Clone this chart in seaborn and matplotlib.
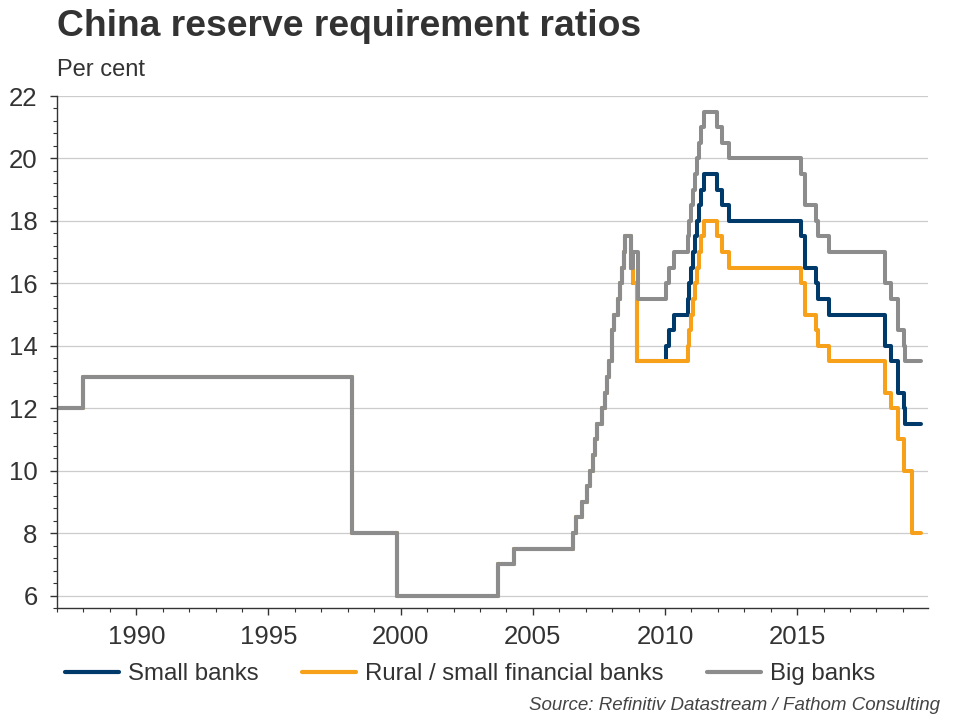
import pandas as pd
import seaborn as sns
import matplotlib.pyplot as plt
from matplotlib.ticker import MultipleLocator

# Données : dates (années décimales) des changements de taux, et taux en %
common_dates = [1987.05, 1988.0, 1998.17, 1999.88, 2003.68, 2004.3, 2006.52, 2006.62,
                2006.87, 2007.04, 2007.15, 2007.29, 2007.37, 2007.43, 2007.62, 2007.73,
                2007.82, 2007.9, 2007.98, 2008.07, 2008.23, 2008.31, 2008.38, 2008.45, 2008.48]
common_values = [12, 13, 8, 6, 7, 7.5, 8, 8.5,
                 9, 9.5, 10, 10.5, 11, 11.5, 12, 12.5,
                 13, 13.5, 14.5, 15, 15.5, 16, 16.5, 17, 17.5]

big_dates = [2008.72, 2008.8, 2008.97, 2010.05, 2010.15, 2010.36, 2010.88, 2010.91,
             2010.97, 2011.05, 2011.15, 2011.23, 2011.3, 2011.38, 2011.47, 2011.97,
             2012.15, 2012.42, 2015.16, 2015.31, 2015.7, 2015.8, 2016.2, 2018.31,
             2018.55, 2018.8, 2019.04, 2019.07, 2019.7]
big_values = [16.5, 17, 15.5, 16, 16.5, 17, 17.5, 18,
              18.5, 19, 19.5, 20, 20.5, 21, 21.5, 21,
              20.5, 20, 19.5, 18.5, 18, 17.5, 17, 16,
              15.5, 14.5, 14, 13.5, 13.5]

small_dates = [2008.72, 2008.8, 2008.93, 2010.05, 2010.15, 2010.36, 2010.88, 2010.91,
               2010.97, 2011.05, 2011.15, 2011.23, 2011.3, 2011.38, 2011.47, 2011.97,
               2012.15, 2012.42, 2015.16, 2015.31, 2015.7, 2015.8, 2016.2, 2018.31,
               2018.55, 2018.8, 2019.04, 2019.07, 2019.7]
small_values = [16.5, 16, 13.5, 14, 14.5, 15, 15.5, 16,
                16.5, 17, 17.5, 18, 18.5, 19, 19.5, 19,
                18.5, 18, 17.5, 16.5, 16, 15.5, 15, 14,
                13.5, 12.5, 12, 11.5, 11.5]

rural_dates = [2008.72, 2008.8, 2008.93, 2010.88, 2010.91, 2010.97, 2011.05, 2011.15,
               2011.23, 2011.3, 2011.38, 2011.47, 2011.97, 2012.15, 2012.42, 2015.16,
               2015.31, 2015.7, 2015.8, 2016.2, 2018.31, 2018.55, 2018.8, 2019.06,
               2019.36, 2019.7]
rural_values = [16.5, 16, 13.5, 14, 14.5, 15, 15.5, 16,
                16.5, 17, 17.5, 18, 17.5, 17, 16.5, 16,
                15, 14.5, 14, 13.5, 12.5, 12, 11, 10,
                8, 8]

series_names = ['Small banks', 'Rural / small financial banks', 'Big banks']
colors = ['#003a6b', '#f7a11a', '#8c8c8c']

frames = []
for name, d, v in zip(series_names,
                      [small_dates, rural_dates, big_dates],
                      [small_values, rural_values, big_values]):
    frames.append(pd.DataFrame({'date': common_dates + d, 'rate': common_values + v, 'series': name}))
df = pd.concat(frames, ignore_index=True)

sns.set_style('ticks')
plt.rcParams['font.family'] = ['Liberation Sans', 'DejaVu Sans']
text_col = '#333333'

fig = plt.figure(figsize=(9.6, 7.2), dpi=100)
ax = fig.add_axes([57 / 960, 1 - 608 / 720, (928 - 57) / 960, (608 - 96) / 720])

sns.lineplot(data=df, x='date', y='rate', hue='series', hue_order=series_names,
             palette=colors, estimator=None, sort=False, drawstyle='steps-post',
             linewidth=2.9, ax=ax, legend=False)

ax.set_xlim(1987.0, 2019.95)
ax.set_ylim(5.6, 22)
ax.set_xlabel('')
ax.set_ylabel('')
ax.set_xticks([1990, 1995, 2000, 2005, 2010, 2015])
ax.xaxis.set_minor_locator(MultipleLocator(1))
ax.set_yticks(range(6, 23, 2))
ax.yaxis.set_minor_locator(MultipleLocator(0.4))
ax.yaxis.grid(True, which='major', color='#cccccc', linewidth=0.9)
ax.set_axisbelow(True)
for s in ['top', 'right']:
    ax.spines[s].set_visible(False)
for s in ['left', 'bottom']:
    ax.spines[s].set_color(text_col)
    ax.spines[s].set_linewidth(1.0)
ax.tick_params(axis='both', which='major', labelsize=18.5, colors=text_col, length=5, width=1)
ax.tick_params(axis='both', which='minor', colors=text_col, length=3, width=0.8)
ax.tick_params(axis='x', pad=7)
ax.tick_params(axis='y', pad=9)

fig.text(57 / 960, 1 - 27 / 720, 'China reserve requirement ratios', fontsize=26.8,
         fontweight='bold', color=text_col, va='center', ha='left')
fig.text(57 / 960, 1 - 70 / 720, 'Per cent', fontsize=17, color=text_col, va='center', ha='left')

handles = [plt.Line2D([], [], color=c, linewidth=3) for c in colors]
fig.legend(handles, series_names, loc='center left', bbox_to_anchor=(65 / 960, 1 - 674 / 720),
           ncol=3, frameon=False, fontsize=17.3, handlelength=2.25, handletextpad=0.38,
           columnspacing=1.8, labelcolor=text_col, borderaxespad=0, borderpad=0)

fig.text(940 / 960, 1 - 705 / 720, 'Source: Refinitiv Datastream / Fathom Consulting',
         fontsize=13.5, style='italic', color='#444444', ha='right', va='center')

fig.savefig('out.png', dpi=100)
